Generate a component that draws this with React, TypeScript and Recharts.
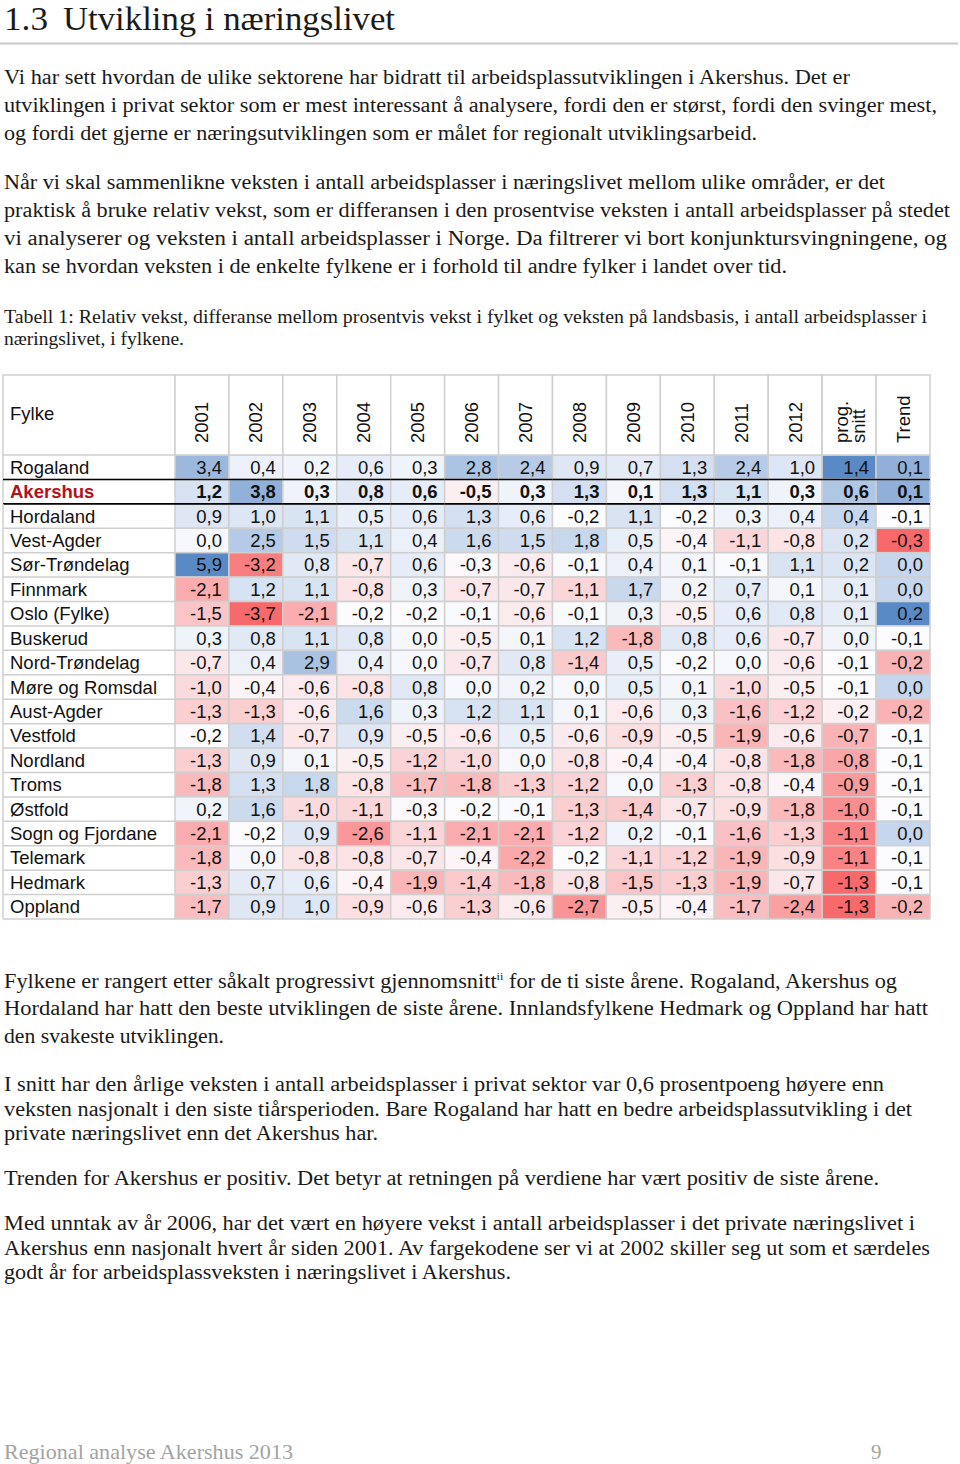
import React from 'react';
import { ScatterChart, Scatter, XAxis, YAxis } from 'recharts';

const fylker = [
  'Rogaland', 'Akershus', 'Hordaland', 'Vest-Agder', 'Sør-Trøndelag', 'Finnmark',
  'Oslo (Fylke)', 'Buskerud', 'Nord-Trøndelag', 'Møre og Romsdal', 'Aust-Agder',
  'Vestfold', 'Nordland', 'Troms', 'Østfold', 'Sogn og Fjordane', 'Telemark',
  'Hedmark', 'Oppland',
];

const years = ['2001', '2002', '2003', '2004', '2005', '2006', '2007', '2008', '2009', '2010', '2011', '2012'];
const extraCols = ['prog. snitt', 'Trend'];
const columns = [...years, ...extraCols];

// relative growth per year, one row per fylke
const yearValues = [
  [3.4, 0.4, 0.2, 0.6, 0.3, 2.8, 2.4, 0.9, 0.7, 1.3, 2.4, 1.0],
  [1.2, 3.8, 0.3, 0.8, 0.6, -0.5, 0.3, 1.3, 0.1, 1.3, 1.1, 0.3],
  [0.9, 1.0, 1.1, 0.5, 0.6, 1.3, 0.6, -0.2, 1.1, -0.2, 0.3, 0.4],
  [0.0, 2.5, 1.5, 1.1, 0.4, 1.6, 1.5, 1.8, 0.5, -0.4, -1.1, -0.8],
  [5.9, -3.2, 0.8, -0.7, 0.6, -0.3, -0.6, -0.1, 0.4, 0.1, -0.1, 1.1],
  [-2.1, 1.2, 1.1, -0.8, 0.3, -0.7, -0.7, -1.1, 1.7, 0.2, 0.7, 0.1],
  [-1.5, -3.7, -2.1, -0.2, -0.2, -0.1, -0.6, -0.1, 0.3, -0.5, 0.6, 0.8],
  [0.3, 0.8, 1.1, 0.8, 0.0, -0.5, 0.1, 1.2, -1.8, 0.8, 0.6, -0.7],
  [-0.7, 0.4, 2.9, 0.4, 0.0, -0.7, 0.8, -1.4, 0.5, -0.2, 0.0, -0.6],
  [-1.0, -0.4, -0.6, -0.8, 0.8, 0.0, 0.2, 0.0, 0.5, 0.1, -1.0, -0.5],
  [-1.3, -1.3, -0.6, 1.6, 0.3, 1.2, 1.1, 0.1, -0.6, 0.3, -1.6, -1.2],
  [-0.2, 1.4, -0.7, 0.9, -0.5, -0.6, 0.5, -0.6, -0.9, -0.5, -1.9, -0.6],
  [-1.3, 0.9, 0.1, -0.5, -1.2, -1.0, 0.0, -0.8, -0.4, -0.4, -0.8, -1.8],
  [-1.8, 1.3, 1.8, -0.8, -1.7, -1.8, -1.3, -1.2, 0.0, -1.3, -0.8, -0.4],
  [0.2, 1.6, -1.0, -1.1, -0.3, -0.2, -0.1, -1.3, -1.4, -0.7, -0.9, -1.8],
  [-2.1, -0.2, 0.9, -2.6, -1.1, -2.1, -2.1, -1.2, 0.2, -0.1, -1.6, -1.3],
  [-1.8, 0.0, -0.8, -0.8, -0.7, -0.4, -2.2, -0.2, -1.1, -1.2, -1.9, -0.9],
  [-1.3, 0.7, 0.6, -0.4, -1.9, -1.4, -1.8, -0.8, -1.5, -1.3, -1.9, -0.7],
  [-1.7, 0.9, 1.0, -0.9, -0.6, -1.3, -0.6, -2.7, -0.5, -0.4, -1.7, -2.4],
];

const progSnitt = [1.4, 0.6, 0.4, 0.2, 0.2, 0.1, 0.1, 0.0, -0.1, -0.1, -0.2, -0.7, -0.8, -0.9, -1.0, -1.1, -1.1, -1.3, -1.3];
const trend = [0.1, 0.1, -0.1, -0.3, 0.0, 0.0, 0.2, -0.1, -0.2, 0.0, -0.2, -0.1, -0.1, -0.1, -0.1, 0.0, -0.1, -0.1, -0.2];

const HIGHLIGHT = 'Akershus';

// Excel style 3-colour scale: min red, median white, max blue
const RED = [248, 105, 107];
const WHITE = [252, 252, 255];
const BLUE = [90, 138, 198];

const mix = (a: number[], b: number[], t: number) =>
  `rgb(${a.map((c, i) => Math.round(c + (b[i] - c) * t)).join(',')})`;

const makeScale = (vals: number[]) => {
  const s = [...vals].sort((a, b) => a - b);
  const min = s[0];
  const max = s[s.length - 1];
  const pos = (s.length - 1) * 0.5;
  const lo = Math.floor(pos);
  const mid = s[lo] + (s[Math.ceil(pos)] - s[lo]) * (pos - lo);
  return (v: number) =>
    v <= mid
      ? mix(WHITE, RED, mid === min ? 0 : (mid - v) / (mid - min))
      : mix(WHITE, BLUE, max === mid ? 0 : (v - mid) / (max - mid));
};

const yearScale = makeScale(yearValues.flat());
const progScale = makeScale(progSnitt);
const trendScale = makeScale(trend);

const cells = fylker.flatMap((row, i) =>
  columns.map((col, j) => {
    const value = j < 12 ? yearValues[i][j] : j === 12 ? progSnitt[i] : trend[i];
    const scale = j < 12 ? yearScale : j === 12 ? progScale : trendScale;
    return { row, col, value, color: scale(value) };
  })
);
const highlightCells = cells.filter((c) => c.row === HIGHLIGHT);

const CHART_W = 960;
const CHART_H = 548;
const MARGIN = { top: 2, right: 30, bottom: 2, left: 3 };
const Y_W = 172;
const X_H = 80;
const CW = (CHART_W - MARGIN.left - MARGIN.right - Y_W) / columns.length;
const CH = (CHART_H - MARGIN.top - MARGIN.bottom - X_H) / fylker.length;

const GRID = '#cfcfcf';
const TABLE_FONT = '"Liberation Sans", Arial, Helvetica, sans-serif';
const FS = 18.5;
const fmt = (v: number) => v.toFixed(1).replace('.', ',');

const renderCell = (props: any) => {
  const { cx, cy, payload } = props;
  const bold = payload.row === HIGHLIGHT;
  return (
    <g>
      <rect x={cx - CW / 2} y={cy - CH / 2} width={CW} height={CH} fill={payload.color} stroke={GRID} strokeWidth={1.5} />
      <text
        x={cx + CW / 2 - 7}
        y={cy + 6.5}
        textAnchor="end"
        fontFamily={TABLE_FONT}
        fontSize={FS}
        fontWeight={bold ? 700 : 400}
        fill="#111"
      >
        {fmt(payload.value)}
      </text>
    </g>
  );
};

const renderHighlight = (props: any) => {
  const { cx, cy } = props;
  return (
    <g>
      <line x1={cx - CW / 2} x2={cx + CW / 2} y1={cy - CH / 2} y2={cy - CH / 2} stroke="#000" strokeWidth={1.5} />
      <line x1={cx - CW / 2} x2={cx + CW / 2} y1={cy + CH / 2} y2={cy + CH / 2} stroke="#000" strokeWidth={1.6} />
    </g>
  );
};

const HeaderTick = (props: any) => {
  const { x, payload } = props;
  const label: string = payload.value;
  const top = MARGIN.top;
  const lines = label === 'prog. snitt' ? ['prog.', 'snitt'] : [label];
  return (
    <g>
      <rect x={x - CW / 2} y={top} width={CW} height={X_H} fill="#fff" stroke={GRID} strokeWidth={1.5} />
      {lines.map((t, k) => (
        <text
          key={t}
          transform={`translate(${x + 6.5 + (lines.length > 1 ? (k === 0 ? -8 : 9) : 0)}, ${top + 68}) rotate(-90)`}
          fontFamily={TABLE_FONT}
          fontSize={FS}
          fill="#111"
        >
          {t}
        </text>
      ))}
    </g>
  );
};

const RowTick = (props: any) => {
  const { y, payload } = props;
  const name: string = payload.value;
  const hl = name === HIGHLIGHT;
  const x0 = MARGIN.left;
  const x1 = MARGIN.left + Y_W;
  return (
    <g>
      <line x1={x0} x2={x0} y1={y - CH / 2} y2={y + CH / 2} stroke={GRID} strokeWidth={1.5} />
      <line x1={x0} x2={x1} y1={y + CH / 2} y2={y + CH / 2} stroke={hl ? '#000' : GRID} strokeWidth={hl ? 1.6 : 1.5} />
      {hl && <line x1={x0} x2={x1} y1={y - CH / 2} y2={y - CH / 2} stroke="#000" strokeWidth={1.5} />}
      <text
        x={x0 + 7}
        y={y + 6.5}
        fontFamily={TABLE_FONT}
        fontSize={FS}
        fontWeight={hl ? 700 : 400}
        fill={hl ? '#b3121c' : '#111'}
      >
        {name}
      </text>
    </g>
  );
};

type Line = { t: React.ReactNode; y: number; w: number; size?: number };

const bodyLines: Line[] = [
  { t: 'Vi har sett hvordan de ulike sektorene har bidratt til arbeidsplassutviklingen i Akershus. Det er', y: 84, w: 846 },
  { t: 'utviklingen i privat sektor som er mest interessant å analysere, fordi den er størst, fordi den svinger mest,', y: 112, w: 933 },
  { t: 'og fordi det gjerne er næringsutviklingen som er målet for regionalt utviklingsarbeid.', y: 140, w: 753 },
  { t: 'Når vi skal sammenlikne veksten i antall arbeidsplasser i næringslivet mellom ulike områder, er det', y: 189, w: 881 },
  { t: 'praktisk å bruke relativ vekst, som er differansen i den prosentvise veksten i antall arbeidsplasser på stedet', y: 217, w: 946 },
  { t: 'vi analyserer og veksten i antall arbeidsplasser i Norge. Da filtrerer vi bort konjunktursvingningene, og', y: 245, w: 943 },
  { t: 'kan se hvordan veksten i de enkelte fylkene er i forhold til andre fylker i landet over tid.', y: 273, w: 783 },
  { t: 'Tabell 1: Relativ vekst, differanse mellom prosentvis vekst i fylket og veksten på landsbasis, i antall arbeidsplasser i', y: 323, w: 923, size: 18 },
  { t: 'næringslivet, i fylkene.', y: 345, w: 180, size: 18 },
  {
    t: (
      <>
        Fylkene er rangert etter såkalt progressivt gjennomsnitt
        <tspan fontSize={11} dy={-8}>ii</tspan>
        <tspan dy={8}> for de ti siste årene. Rogaland, Akershus og</tspan>
      </>
    ),
    y: 988,
    w: 893,
  },
  { t: 'Hordaland har hatt den beste utviklingen de siste årene. Innlandsfylkene Hedmark og Oppland har hatt', y: 1015, w: 924 },
  { t: 'den svakeste utviklingen.', y: 1043, w: 220 },
  { t: 'I snitt har den årlige veksten i antall arbeidsplasser i privat sektor var 0,6 prosentpoeng høyere enn', y: 1091, w: 880 },
  { t: 'veksten nasjonalt i den siste tiårsperioden. Bare Rogaland har hatt en bedre arbeidsplassutvikling i det', y: 1116, w: 908 },
  { t: 'private næringslivet enn det Akershus har.', y: 1140, w: 374 },
  { t: 'Trenden for Akershus er positiv. Det betyr at retningen på verdiene har vært positiv de siste årene.', y: 1185, w: 875 },
  { t: 'Med unntak av år 2006, har det vært en høyere vekst i antall arbeidsplasser i det private næringslivet i', y: 1230, w: 911 },
  { t: 'Akershus enn nasjonalt hvert år siden 2001. Av fargekodene ser vi at 2002 skiller seg ut som et særdeles', y: 1255, w: 926 },
  { t: 'godt år for arbeidsplassveksten i næringslivet i Akershus.', y: 1279, w: 507 },
];

const SERIF = '"Liberation Serif", "Times New Roman", serif';

export default function App() {
  return (
    <div style={{ position: 'absolute', left: 0, top: 0, width: 960, height: 1464, background: '#fff', overflow: 'hidden' }}>
      <svg width={960} height={1464} style={{ position: 'absolute', left: 0, top: 0 }}>
        <text x={4} y={30} fontFamily={SERIF} fontSize={34} fill="#1a1a1a" textLength={44} lengthAdjust="spacingAndGlyphs">1.3</text>
        <text x={63} y={30} fontFamily={SERIF} fontSize={34} fill="#1a1a1a" textLength={332} lengthAdjust="spacingAndGlyphs">
          Utvikling i næringslivet
        </text>
        <line x1={0} x2={958} y1={43.5} y2={43.5} stroke="#c8c8c8" strokeWidth={2} />
        {bodyLines.map((l, i) => (
          <text
            key={i}
            x={4}
            y={l.y}
            fontFamily={SERIF}
            fontSize={l.size ?? 20}
            fill="#1a1a1a"
            textLength={l.w}
            lengthAdjust="spacingAndGlyphs"
          >
            {l.t}
          </text>
        ))}
        <text x={4} y={1459} fontFamily={SERIF} fontSize={21} fill="#a3a3a3" textLength={289} lengthAdjust="spacingAndGlyphs">
          Regional analyse Akershus 2013
        </text>
        <text x={871} y={1459} fontFamily={SERIF} fontSize={21} fill="#a3a3a3">9</text>
      </svg>

      <div style={{ position: 'absolute', left: 0, top: 373 }}>
        <ScatterChart width={CHART_W} height={CHART_H} margin={MARGIN}>
          <XAxis
            type="category"
            dataKey="col"
            orientation="top"
            height={X_H}
            allowDuplicatedCategory={false}
            axisLine={false}
            tickLine={false}
            interval={0}
            tick={<HeaderTick />}
          />
          <YAxis
            type="category"
            dataKey="row"
            width={Y_W}
            reversed
            allowDuplicatedCategory={false}
            axisLine={false}
            tickLine={false}
            interval={0}
            tick={<RowTick />}
          />
          <g>
            <rect x={MARGIN.left} y={MARGIN.top} width={Y_W} height={X_H} fill="#fff" stroke={GRID} strokeWidth={1.5} />
            <text x={MARGIN.left + 7} y={MARGIN.top + 45} fontFamily={TABLE_FONT} fontSize={FS} fill="#111">
              Fylke
            </text>
          </g>
          <Scatter data={cells} shape={renderCell} isAnimationActive={false} />
          <Scatter data={highlightCells} shape={renderHighlight} isAnimationActive={false} />
        </ScatterChart>
      </div>
    </div>
  );
}
